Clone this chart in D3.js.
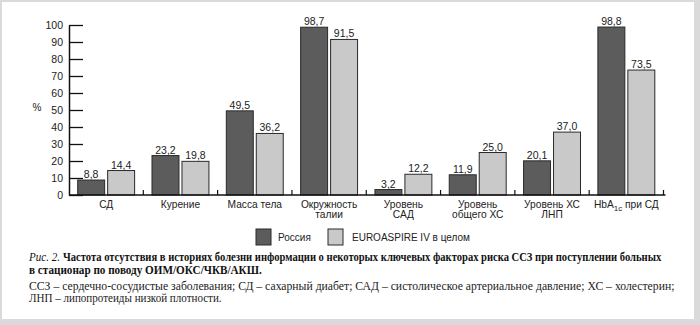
<!DOCTYPE html>
<html><head><meta charset="utf-8">
<script src="https://cdn.jsdelivr.net/npm/d3@7"></script>
<style>body{margin:0;padding:0;background:#fff;} svg{display:block;}</style>
</head><body>
<svg id="chart" width="700" height="325"></svg>
<script>
const categories = ["СД", "Курение", "Масса тела", "Окружность талии", "Уровень САД", "Уровень общего ХС", "Уровень ХС ЛНП", "HbA1c при СД"];
const categoryLines = [["СД"], ["Курение"], ["Масса тела"], ["Окружность", "талии"], ["Уровень", "САД"], ["Уровень", "общего ХС"], ["Уровень ХС", "ЛНП"], ["HbA1c при СД"]];
const seriesNames = ["Россия", "EUROASPIRE IV в целом"];
const russia = [8.8, 23.2, 49.5, 98.7, 3.2, 11.9, 20.1, 98.8];
const euroaspire = [14.4, 19.8, 36.2, 91.5, 12.2, 25.0, 37.0, 73.5];
const yTicks = [0, 10, 20, 30, 40, 50, 60, 70, 80, 90, 100];
const captionPrefix = "Рис. 2.";
const captionLine1 = "Частота отсутствия в историях болезни информации о некоторых ключевых факторах риска ССЗ при поступлении больных";
const captionLine2 = "в стационар по поводу ОИМ/ОКС/ЧКВ/АКШ.";
const noteLine1 = "ССЗ – сердечно-сосудистые заболевания; СД – сахарный диабет; САД – систолическое артериальное давление;  ХС – холестерин;";
const noteLine2 = "ЛНП – липопротеиды низкой плотности.";

const svg = d3.select("#chart");
const colors = ["#5c5c5c", "#c9c9c9"];
const sans = "'Liberation Sans', Arial, sans-serif";
const serif = "'Liberation Serif', 'Times New Roman', serif";

// frame
svg.append("rect").attr("x", 0).attr("y", 0).attr("width", 700).attr("height", 325).attr("fill", "#dadada");
svg.append("rect").attr("x", 2).attr("y", 2).attr("width", 692).attr("height", 317).attr("fill", "#fff");

const x0 = 69, x1 = 663.5, yTop = 25, yBase = 195;
const x = d3.scaleBand().domain(categories).range([x0, x1]).padding(0);
const xs = d3.scaleBand().domain(seriesNames).range([0, x.bandwidth()]).paddingInner(0.1).paddingOuter(0.29);
const y = d3.scaleLinear().domain([0, 100]).range([yBase, yTop]);

const data = categories.map((c, i) => ({cat: c, vals: [russia[i], euroaspire[i]]}));
const fmt = v => d3.format(".1f")(v).replace(".", ",");

// y axis
const yAxis = svg.append("g").attr("transform", `translate(${x0},0)`)
  .call(d3.axisLeft(y).tickValues(yTicks).tickSize(-14).tickPadding(6).tickSizeOuter(0));
yAxis.select(".domain").attr("stroke", "#111").attr("stroke-width", 1.5);
yAxis.selectAll(".tick line").attr("stroke", "#111").attr("stroke-width", 1.3);
yAxis.selectAll(".tick text").attr("font-family", sans).attr("font-size", 10.5).attr("fill", "#222");

svg.append("text").attr("x", 37).attr("y", 111).attr("text-anchor", "middle")
  .attr("font-family", sans).attr("font-size", 10).attr("fill", "#222").text("%");

// bars
const groups = svg.append("g").selectAll("g").data(data).join("g")
  .attr("transform", d => `translate(${x(d.cat)},0)`);
groups.selectAll("rect").data(d => d.vals.map((v, j) => ({s: seriesNames[j], v, j}))).join("rect")
  .attr("x", d => xs(d.s)).attr("width", xs.bandwidth())
  .attr("y", d => y(d.v)).attr("height", d => yBase - y(d.v))
  .attr("fill", d => colors[d.j]).attr("stroke", "#2a2a2a").attr("stroke-width", 1);
groups.selectAll("text.val").data(d => d.vals.map((v, j) => ({s: seriesNames[j], v, j}))).join("text")
  .attr("class", "val")
  .attr("x", d => xs(d.s) + xs.bandwidth() / 2).attr("y", d => y(d.v) - 2)
  .attr("text-anchor", "middle").attr("font-family", sans).attr("font-size", 10.5).attr("fill", "#222")
  .text(d => fmt(d.v));

// x axis
const xAxis = svg.append("g").attr("transform", `translate(0,${yBase})`)
  .call(d3.axisBottom(x).tickSize(0).tickFormat(""));
xAxis.select(".domain").attr("stroke", "#111").attr("stroke-width", 1.5).attr("d", `M${x0},0H${x1 + 2}`);
const bounds = categories.map(c => x(c) + x.bandwidth());
svg.append("g").selectAll("line").data(bounds).join("line")
  .attr("x1", d => d).attr("x2", d => d).attr("y1", yBase).attr("y2", yBase - 5)
  .attr("stroke", "#111").attr("stroke-width", 1.2);

// category labels
const labelG = svg.append("g").attr("font-family", sans).attr("font-size", 10.2).attr("fill", "#222").attr("text-anchor", "middle");
categories.forEach((c, i) => {
  const cx = x(c) + x.bandwidth() / 2;
  categoryLines[i].forEach((ln, k) => {
    const t = labelG.append("text").attr("x", cx).attr("y", 208 + k * 10);
    if (ln.startsWith("HbA1c")) {
      t.append("tspan").text("HbA");
      t.append("tspan").attr("font-size", 8).attr("dy", 3).text("1c");
      t.append("tspan").attr("dy", -3).text(ln.slice(5));
    } else {
      t.text(ln);
    }
  });
});

// legend
const legend = svg.append("g");
const legendX = [256, 328];
seriesNames.forEach((s, j) => {
  legend.append("rect").attr("x", legendX[j]).attr("y", 229).attr("width", 15).attr("height", 16)
    .attr("fill", colors[j]).attr("stroke", "#2a2a2a").attr("stroke-width", 1);
  legend.append("text").attr("x", legendX[j] + 22 + (j ? 2 : 0)).attr("y", 241)
    .attr("font-family", sans).attr("font-size", 10).attr("fill", "#222").text(s);
});

// caption: text fitted horizontally with a scale transform
function fitted(tx, ty, width, size, txt, opts) {
  const t = svg.append("text").attr("x", 0).attr("y", 0)
    .attr("font-family", serif).attr("font-size", size).attr("fill", opts.fill || "#111")
    .attr("font-weight", opts.weight || "normal").attr("font-style", opts.style || "normal")
    .text(txt);
  const len = t.node().getComputedTextLength();
  t.attr("transform", `translate(${tx},${ty}) scale(${width / len},1)`);
  return t;
}
fitted(29, 261, 31, 12, captionPrefix, {style: "italic"});
fitted(63, 261, 599, 12, captionLine1, {weight: "bold"});
fitted(29, 274, 233, 12, captionLine2, {weight: "bold"});
fitted(29, 290, 646, 11.5, noteLine1, {fill: "#222"});
fitted(29, 302, 193, 11.5, noteLine2, {fill: "#222"});
</script>
</body></html>
